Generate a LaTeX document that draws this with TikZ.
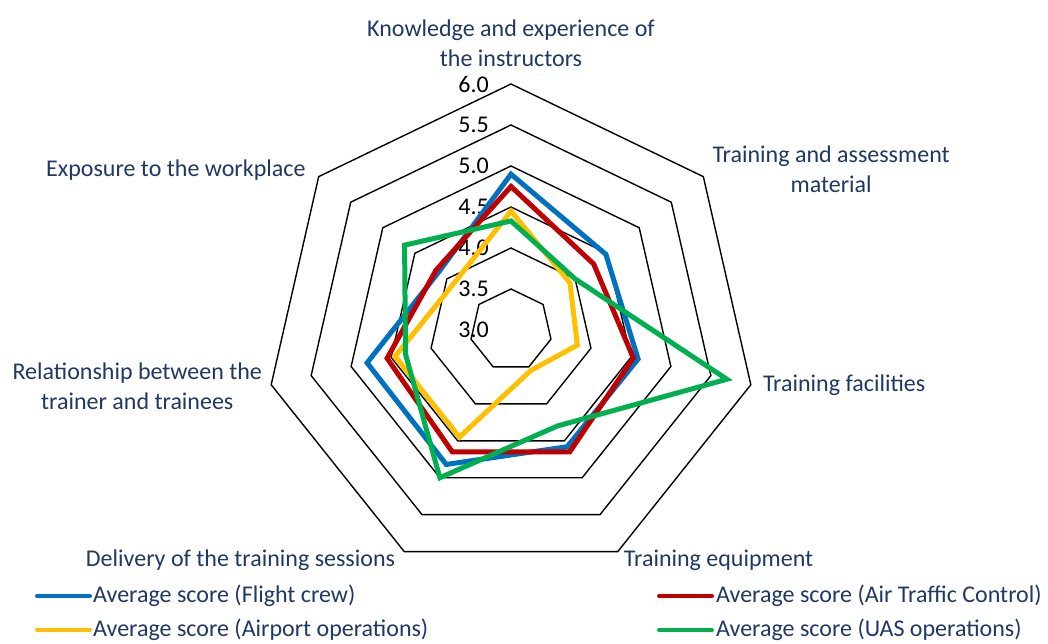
\documentclass[tikz,border=0pt]{standalone}
\usepackage{fontspec}
\setmainfont{Carlito}
\usetikzlibrary{positioning}
\definecolor{navytext}{RGB}{31,56,100}
\definecolor{crewblue}{RGB}{0,112,192}
\definecolor{atcred}{RGB}{192,0,0}
\definecolor{aptyellow}{RGB}{255,192,0}
\definecolor{uasgreen}{RGB}{0,176,80}
\newcommand{\scoreline}[8]{%
  \draw [series,#1] (90:{(#2-3)*82}) -- (38.571:{(#3-3)*82}) -- (-12.857:{(#4-3)*82})
    -- (-64.286:{(#5-3)*82}) -- (-115.714:{(#6-3)*82}) -- (-167.143:{(#7-3)*82})
    -- (-218.571:{(#8-3)*82}) -- cycle;}
\begin{document}
\begin{tikzpicture}[x=1pt,y=1pt]
        \tikzstyle{every node}+=[inner sep=0pt]
        \tikzstyle{axislabel}=[text=navytext,font=\fontsize{24}{30}\selectfont,align=center]
        \tikzstyle{ticklabel}=[black,font=\fontsize{24}{28}\selectfont,anchor=east]
        \tikzstyle{series}=[line width=5pt]
        \tikzstyle{keyline}=[line width=4pt,line cap=round]
        \useasboundingbox (0,0) rectangle (1048,643);
        \begin{scope}[shift={(511,313)}]
        \foreach \r in {1,...,6}
          \draw [black,line width=1.4pt] (90:\r*41) \foreach \a in {1,...,6} {-- (90-\a*360/7:\r*41)} -- cycle;
        \foreach \a [count=\k from 0] in {90,38.571,-12.857,-64.286,-115.714,-167.143,-218.571}
          \coordinate (o\k) at (\a:246);
        \foreach \r/\t in {0/3.0,1/3.5,2/4.0,3/4.5,4/5.0,5/5.5,6/6.0}
          \node [ticklabel] (tick\r) at (-22,\r*41) {\t};
        \scoreline{crewblue}{4.90}{4.48}{4.59}{4.58}{4.82}{4.80}{4.13}
        \scoreline{atcred}{4.75}{4.29}{4.53}{4.65}{4.65}{4.55}{4.17}
        \scoreline{aptyellow}{4.45}{3.92}{3.83}{3.55}{4.45}{4.45}{3.90}
        \scoreline{uasgreen}{4.33}{4.00}{5.70}{4.30}{5.00}{4.32}{4.66}
        \node [axislabel,above=17pt of o0] (knowledge) {Knowledge and experience of\\the instructors};
        \node [axislabel,right=9pt of o1,yshift=7pt] (material) {Training and assessment\\material};
        \node [axislabel,right=12pt of o2] (facilities) {Training facilities};
        \node [axislabel,right=6pt of o3,yshift=-9pt] (equipment) {Training equipment};
        \node [axislabel,left=9pt of o4,yshift=-9pt] (delivery) {Delivery of the training sessions};
        \node [axislabel,left=9pt of o5,yshift=-2pt] (relationship) {Relationship between the\\trainer and trainees};
        \node [axislabel,left=13pt of o6,yshift=7pt] (exposure) {Exposure to the workplace};
        \end{scope}
        \node [axislabel,anchor=west] (crewkey) at (93,47) {Average score (Flight crew)};
        \node [axislabel,anchor=west] (atckey) at (716,47) {Average score (Air Traffic Control)};
        \node [axislabel,anchor=west] (aptkey) at (93,13) {Average score (Airport operations)};
        \node [axislabel,anchor=west] (uaskey) at (716,13) {Average score (UAS operations)};
        \draw [keyline,crewblue] ([xshift=-3pt]crewkey.west) -- ++(-53,0);
        \draw [keyline,atcred] ([xshift=-4pt]atckey.west) -- ++(-53,0);
        \draw [keyline,aptyellow] ([xshift=-3pt]aptkey.west) -- ++(-53,0);
        \draw [keyline,uasgreen] ([xshift=-4pt]uaskey.west) -- ++(-53,0);
        \end{tikzpicture}
\end{document}
